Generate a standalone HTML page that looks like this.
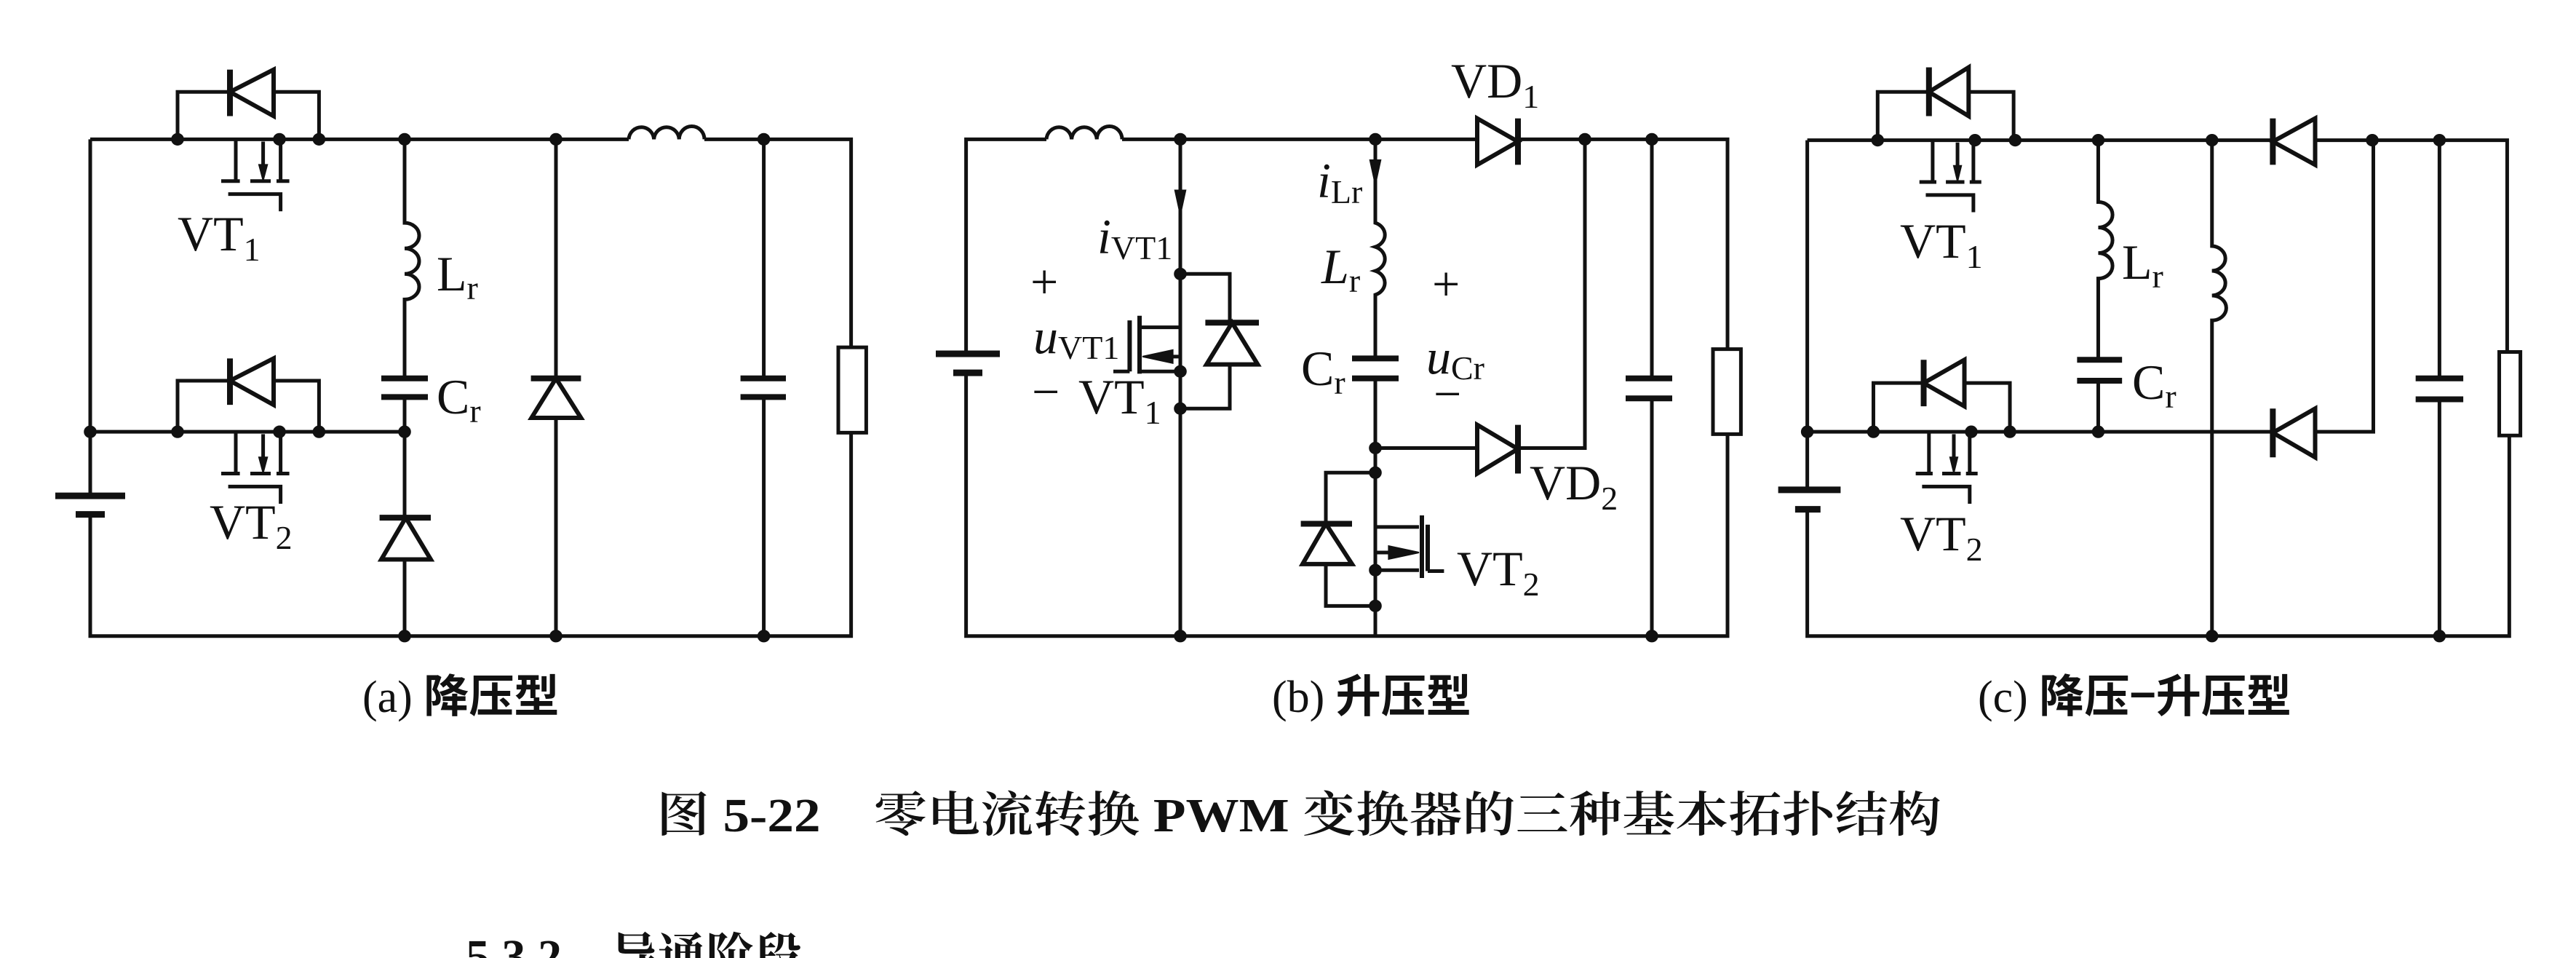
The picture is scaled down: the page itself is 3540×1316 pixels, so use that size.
<!DOCTYPE html>
<html><head><meta charset="utf-8"><style>
html,body{margin:0;padding:0;background:#fff;}
svg{display:block;}
text{font-family:"Liberation Serif","Noto Serif CJK SC",serif;fill:#111;}
.w{fill:none;stroke:#111;stroke-width:5;vector-effect:non-scaling-stroke;}
.d{fill:#fff;stroke:#111;stroke-width:6;vector-effect:non-scaling-stroke;stroke-linejoin:miter;}
.f{fill:#111;stroke:#111;stroke-width:2;vector-effect:non-scaling-stroke;}
</style></head><body>
<svg width="3540" height="1316" viewBox="0 0 3540 1316" xmlns="http://www.w3.org/2000/svg">
<defs>
<g id="mos">
<path class="w" d="M0,0V90M-25,90H7M25,90H60M77,0V90M70,90H92M-13,118H77V155M47,5V60"/>
<path class="f" d="M40,55L54,55L47,88Z"/>
</g>
</defs>

<!-- Panel a -->
<g transform="translate(0,0) scale(0.8,0.6378)">
<path class="w" d="M155,300H1080M1210,300H1462V748M1462,932V1370H155V1108M155,1068V300M155,930H695"/>
<path class="w" d="M1080,300a21.7,28 0 0 1 43.3,0a21.7,28 0 0 1 43.3,0a21.7,28 0 0 1 43.4,0"/>
<rect class="w" x="1440" y="748" width="48" height="184"/>
<path class="w" d="M95,1068H215M130,1108H180" style="stroke-width:9"/>
<path class="w" d="M695,300V480a25,27.5 0 0 1 0,55a25,27.5 0 0 1 0,55a25,27.5 0 0 1 0,55V815M695,855V1370"/>
<path class="w" d="M655,815H735M655,855H735" style="stroke-width:8"/>
<path class="d" d="M697,1115L655,1205H740Z"/><path class="w" d="M652,1115H740" style="stroke-width:8"/>
<path class="w" d="M955,300V1370M1312,300V815M1312,855V1370"/>
<path class="d" d="M955,815L913,900H998Z"/><path class="w" d="M912,815H998" style="stroke-width:8"/>
<path class="w" d="M1272,815H1350M1272,855H1350" style="stroke-width:8"/>
<path class="w" d="M305,300V198H548V300M305,930V820H548V930"/>
<path class="d" d="M395,198L470,150V250Z"/><path class="w" d="M395,150V250" style="stroke-width:8"/>
<path class="d" d="M395,820L470,772V872Z"/><path class="w" d="M395,772V872" style="stroke-width:8"/>
<use href="#mos" transform="translate(405,300)"/>
<use href="#mos" transform="translate(405,930)"/>
<g class="f">
<ellipse cx="305" cy="300" rx="10" ry="12.5"/><ellipse cx="480" cy="300" rx="10" ry="12.5"/><ellipse cx="548" cy="300" rx="10" ry="12.5"/><ellipse cx="695" cy="300" rx="10" ry="12.5"/><ellipse cx="955" cy="300" rx="10" ry="12.5"/><ellipse cx="1312" cy="300" rx="10" ry="12.5"/>
<ellipse cx="155" cy="930" rx="10" ry="12.5"/><ellipse cx="305" cy="930" rx="10" ry="12.5"/><ellipse cx="480" cy="930" rx="10" ry="12.5"/><ellipse cx="548" cy="930" rx="10" ry="12.5"/><ellipse cx="695" cy="930" rx="10" ry="12.5"/>
<ellipse cx="695" cy="1370" rx="10" ry="12.5"/><ellipse cx="955" cy="1370" rx="10" ry="12.5"/><ellipse cx="1312" cy="1370" rx="10" ry="12.5"/>
</g>
</g>

<!-- Panel b -->
<g transform="translate(1250,0) scale(0.8,0.6378)">
<path class="w" d="M97,762V300H235M365,300H1405V752M1405,935V1370H97V803"/>
<path class="w" d="M235,300a21.7,28 0 0 1 43.3,0a21.7,28 0 0 1 43.3,0a21.7,28 0 0 1 43.4,0"/>
<rect class="w" x="1380" y="752" width="48" height="183"/>
<path class="w" d="M45,762H155M75,803H125" style="stroke-width:9"/>
<path class="w" d="M465,300V1370M465,590H550V880H465M465,705H395M465,800H395M378,800H350M465,768H440"/>
<path class="w" d="M395,680V805M378,690V800" style="stroke-width:6"/>
<path class="f" d="M400,768L452,754V782Z"/>
<path class="d" d="M554,695L510,785H598Z"/><path class="w" d="M508,695H600" style="stroke-width:8"/>
<path class="f" d="M456,410H474L465,462Z"/>
<path class="w" d="M800,300V480a25,27.5 0 0 1 0,51.7a25,27.5 0 0 1 0,51.7a25,27.5 0 0 1 0,51.6V772M800,815V1370"/>
<path class="f" d="M791,345H809L800,397Z"/>
<path class="w" d="M760,772H840M760,815H840" style="stroke-width:8"/>
<path class="w" d="M800,965H1160V300M800,1018H715V1305H800M800,1135H875M800,1228H875M890,1230H918M800,1190H840"/>
<path class="w" d="M880,1110V1245M890,1130V1230" style="stroke-width:6"/>
<path class="f" d="M875,1190L823,1176V1204Z"/>
<path class="d" d="M715,1128L675,1215H760Z"/><path class="w" d="M672,1128H760" style="stroke-width:8"/>
<path class="d" d="M975,255V355L1045,305Z"/><path class="w" d="M1045,255V355" style="stroke-width:8"/>
<path class="d" d="M975,915V1020L1045,967Z"/><path class="w" d="M1045,915V1020" style="stroke-width:8"/>
<path class="w" d="M1275,300V815M1275,858V1370"/>
<path class="w" d="M1230,815H1310M1230,858H1310" style="stroke-width:8"/>
<g class="f">
<ellipse cx="465" cy="300" rx="10" ry="12.5"/><ellipse cx="800" cy="300" rx="10" ry="12.5"/><ellipse cx="1160" cy="300" rx="10" ry="12.5"/><ellipse cx="1275" cy="300" rx="10" ry="12.5"/>
<ellipse cx="465" cy="590" rx="10" ry="12.5"/><ellipse cx="465" cy="800" rx="10" ry="12.5"/><ellipse cx="465" cy="880" rx="10" ry="12.5"/>
<ellipse cx="800" cy="965" rx="10" ry="12.5"/><ellipse cx="800" cy="1018" rx="10" ry="12.5"/><ellipse cx="800" cy="1228" rx="10" ry="12.5"/><ellipse cx="800" cy="1305" rx="10" ry="12.5"/>
<ellipse cx="465" cy="1370" rx="10" ry="12.5"/><ellipse cx="1275" cy="1370" rx="10" ry="12.5"/>
</g>
</g>

<!-- Panel c -->
<g transform="translate(2400,0) scale(0.727,0.6378)">
<path class="w" d="M115,302H1438V758M1442,938V1370H115V1097M115,1055V302M115,930H1185V302"/>
<rect class="w" x="1423" y="758" width="40" height="180"/>
<path class="w" d="M60,1055H178M92,1097H140" style="stroke-width:9"/>
<path class="w" d="M665,302V435a27,27.5 0 0 1 0,55a27,27.5 0 0 1 0,55a27,27.5 0 0 1 0,55V775M665,820V930"/>
<path class="w" d="M625,775H710M625,820H710" style="stroke-width:8"/>
<path class="w" d="M880,302V530a27,26.7 0 0 1 0,53.3a27,26.7 0 0 1 0,53.3a27,26.7 0 0 1 0,53.4V1370"/>
<path class="d" d="M1075,255V355L995,305Z"/><path class="w" d="M995,255V355" style="stroke-width:8"/>
<path class="d" d="M1075,880V985L995,932Z"/><path class="w" d="M995,880V985" style="stroke-width:8"/>
<path class="w" d="M1310,302V815M1310,860V1370"/>
<path class="w" d="M1265,815H1355M1265,860H1355" style="stroke-width:8"/>
<path class="w" d="M248,302V198H505V302M240,930V825H498V930"/>
<path class="d" d="M345,198L420,145V250Z"/><path class="w" d="M345,145V250" style="stroke-width:8"/>
<path class="d" d="M335,825L412,775V875Z"/><path class="w" d="M335,775V875" style="stroke-width:8"/>
<use href="#mos" transform="translate(352,302)"/>
<use href="#mos" transform="translate(345,930)"/>
<g class="f">
<ellipse cx="248" cy="302" rx="11" ry="12.5"/><ellipse cx="432" cy="302" rx="11" ry="12.5"/><ellipse cx="508" cy="302" rx="11" ry="12.5"/><ellipse cx="665" cy="302" rx="11" ry="12.5"/><ellipse cx="880" cy="302" rx="11" ry="12.5"/><ellipse cx="1183" cy="302" rx="11" ry="12.5"/><ellipse cx="1310" cy="302" rx="11" ry="12.5"/>
<ellipse cx="115" cy="930" rx="11" ry="12.5"/><ellipse cx="240" cy="930" rx="11" ry="12.5"/><ellipse cx="425" cy="930" rx="11" ry="12.5"/><ellipse cx="498" cy="930" rx="11" ry="12.5"/><ellipse cx="665" cy="930" rx="11" ry="12.5"/>
<ellipse cx="880" cy="1370" rx="11" ry="12.5"/><ellipse cx="1310" cy="1370" rx="11" ry="12.5"/>
</g>
</g>

<!-- Labels -->
<g font-size="68">
<text x="244" y="344">VT<tspan font-size="46" dy="14">1</tspan></text>
<text x="288" y="740">VT<tspan font-size="46" dy="14">2</tspan></text>
<text x="600" y="399">L<tspan font-size="46" dy="12">r</tspan></text>
<text x="600" y="568">C<tspan font-size="46" dy="12">r</tspan></text>

<text x="1994" y="134">VD<tspan font-size="46" dy="14">1</tspan></text>
<text x="1508" y="348" font-style="italic">i<tspan font-style="normal" font-size="46" dy="8">VT1</tspan></text>
<text x="1810" y="271" font-style="italic">i<tspan font-style="normal" font-size="46" dy="8">Lr</tspan></text>
<text x="1816" y="389" font-style="italic">L<tspan font-style="normal" font-size="46" dy="12">r</tspan></text>
<text x="1416" y="410">+</text>
<text x="1420" y="485" font-style="italic">u<tspan font-style="normal" font-size="46" dy="8">VT1</tspan></text>
<text x="1418" y="561">−</text>
<text x="1482" y="568">VT<tspan font-size="46" dy="14">1</tspan></text>
<text x="1968" y="413">+</text>
<text x="1788" y="529">C<tspan font-size="46" dy="12">r</tspan></text>
<text x="1960" y="513" font-style="italic">u<tspan font-style="normal" font-size="46" dy="8">Cr</tspan></text>
<text x="1970" y="564">−</text>
<text x="2102" y="686">VD<tspan font-size="46" dy="14">2</tspan></text>
<text x="2002" y="804">VT<tspan font-size="46" dy="14">2</tspan></text>

<text x="2611" y="354">VT<tspan font-size="46" dy="14">1</tspan></text>
<text x="2611" y="756">VT<tspan font-size="46" dy="14">2</tspan></text>
<text x="2916" y="383">L<tspan font-size="46" dy="12">r</tspan></text>
<text x="2930" y="548">C<tspan font-size="46" dy="12">r</tspan></text>
</g>

<g font-size="62">
<text x="498" y="978">(a) <tspan font-family="Noto Sans CJK SC,sans-serif" font-weight="bold">降压型</tspan></text>
<text x="1748" y="978">(b) <tspan font-family="Noto Sans CJK SC,sans-serif" font-weight="bold">升压型</tspan></text>
<text x="2718" y="978">(c) <tspan font-family="Noto Sans CJK SC,sans-serif" font-weight="bold">降压−升压型</tspan></text>
</g>
<text x="902" y="1142" font-size="66" textLength="1766" lengthAdjust="spacingAndGlyphs" font-family="Liberation Serif,Noto Serif CJK SC,serif" font-weight="600">图 5-22　零电流转换 <tspan font-weight="bold">PWM</tspan> 变换器的三种基本拓扑结构</text>
<text x="640" y="1336" font-size="66" font-family="Liberation Sans,Noto Sans CJK SC,sans-serif" font-weight="bold">5.3.2　导通阶段</text>
</svg>
</body></html>
